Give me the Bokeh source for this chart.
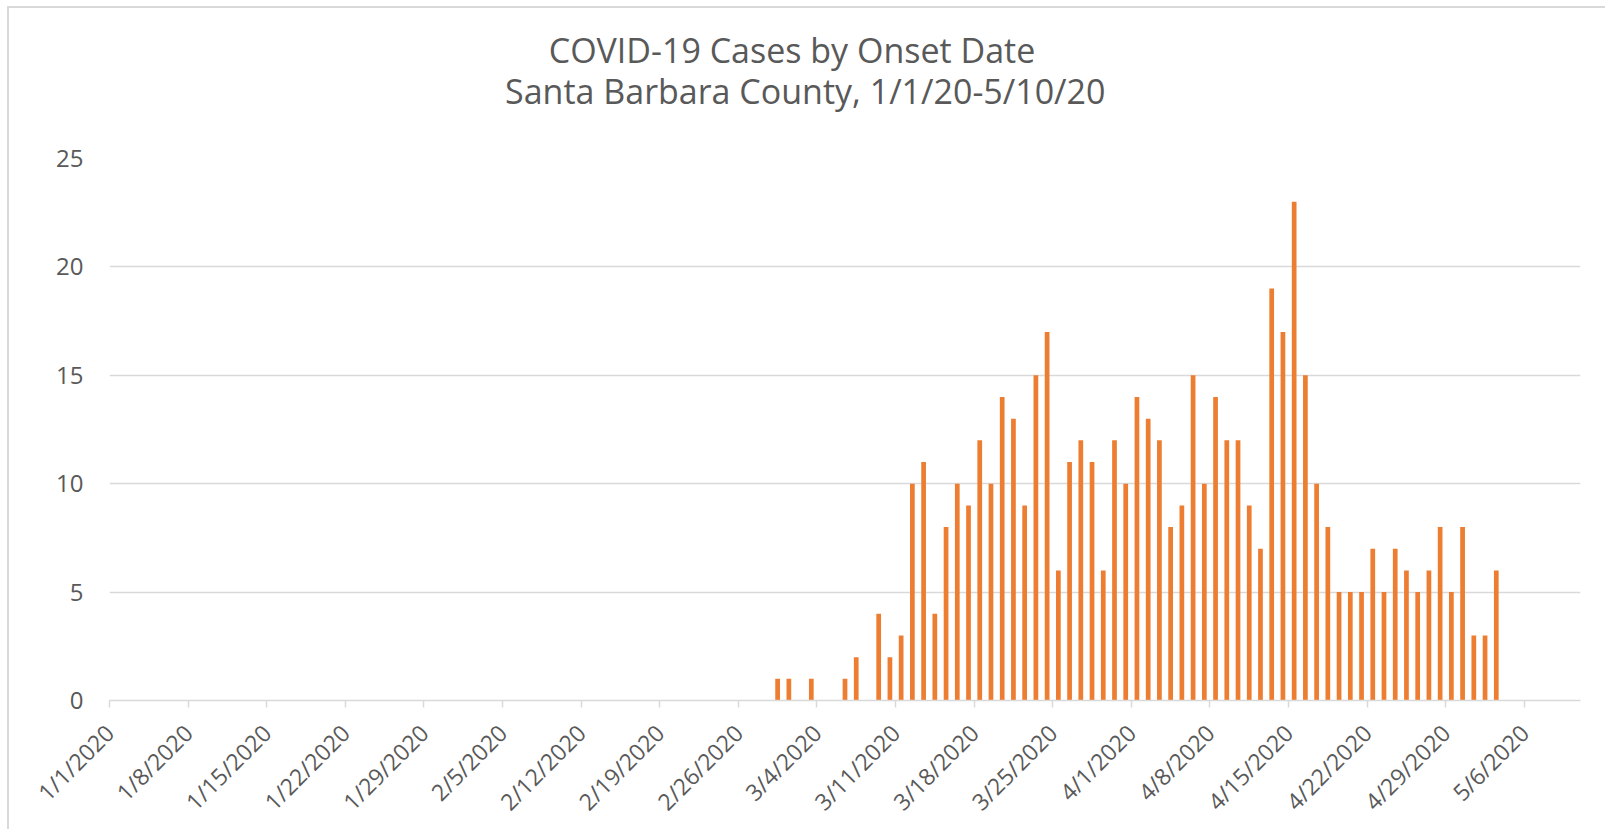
import pandas as pd
from bokeh.plotting import figure
from bokeh.models import Range1d, FixedTicker, Title, ColumnDataSource
from bokeh.embed import file_html
from bokeh.resources import INLINE

# ---- data ----
onset_dates = [
    "2/29/2020", "3/1/2020", "3/3/2020", "3/6/2020", "3/7/2020", "3/9/2020",
    "3/10/2020", "3/11/2020", "3/12/2020", "3/13/2020", "3/14/2020", "3/15/2020",
    "3/16/2020", "3/17/2020", "3/18/2020", "3/19/2020", "3/20/2020", "3/21/2020",
    "3/22/2020", "3/23/2020", "3/24/2020", "3/25/2020", "3/26/2020", "3/27/2020",
    "3/28/2020", "3/29/2020", "3/30/2020", "3/31/2020", "4/1/2020", "4/2/2020",
    "4/3/2020", "4/4/2020", "4/5/2020", "4/6/2020", "4/7/2020", "4/8/2020",
    "4/9/2020", "4/10/2020", "4/11/2020", "4/12/2020", "4/13/2020", "4/14/2020",
    "4/15/2020", "4/16/2020", "4/17/2020", "4/18/2020", "4/19/2020", "4/20/2020",
    "4/21/2020", "4/22/2020", "4/23/2020", "4/24/2020", "4/25/2020", "4/26/2020",
    "4/27/2020", "4/28/2020", "4/29/2020", "4/30/2020", "5/1/2020", "5/2/2020",
    "5/3/2020",
]
cases = [
    1, 1, 1, 1, 2, 4,
    2, 3, 10, 11, 4, 8,
    10, 9, 12, 10, 14, 13,
    9, 15, 17, 6, 11, 12,
    11, 6, 12, 10, 14, 13,
    12, 8, 9, 15, 10, 14,
    12, 12, 9, 7, 19, 17,
    23, 15, 10, 8, 5, 5,
    5, 7, 5, 7, 6, 5,
    6, 8, 5, 8, 3, 3,
    6,
]
tick_labels = [
    "1/1/2020", "1/8/2020", "1/15/2020", "1/22/2020", "1/29/2020", "2/5/2020",
    "2/12/2020", "2/19/2020", "2/26/2020", "3/4/2020", "3/11/2020", "3/18/2020",
    "3/25/2020", "4/1/2020", "4/8/2020", "4/15/2020", "4/22/2020", "4/29/2020",
    "5/6/2020",
]
axis_start = "1/1/2020"
axis_end = "5/11/2020"
y_ticks = [0, 5, 10, 15, 20, 25]
title_line1 = "COVID-19 Cases by Onset Date"
title_line2 = "Santa Barbara County, 1/1/20-5/10/20"

# ---- conversion to day numbers ----
origin = pd.to_datetime(axis_start, format="%m/%d/%Y")
def day_of(s):
    return (pd.to_datetime(s, format="%m/%d/%Y") - origin).days

bar_x = [day_of(d) + 0.5 for d in onset_dates]
tick_pos = [day_of(t) for t in tick_labels]

src = ColumnDataSource(dict(x=bar_x, cases=cases, date=onset_dates))

FONT = "Open Sans"
TXT = "#595959"
GRID = "#D9D9D9"
NBSP = "\u00a0"

p = figure(
    width=1598, height=823,
    x_range=Range1d(0, day_of(axis_end)), y_range=Range1d(0, 25),
    output_backend="svg", toolbar_location=None, title=None,
    min_border_left=100, min_border_right=27, min_border_top=150, min_border_bottom=128,
)
p.styles = {"border-top": "2px solid #D9D9D9", "border-left": "2px solid #D9D9D9",
            "margin-left": "7px", "margin-top": "6px"}
p.outline_line_color = None
p.background_fill_color = "white"
p.border_fill_color = "white"

p.vbar(x="x", top="cases", width=0.42, source=src,
       fill_color="#ED7D31", line_color=None)

# titles: stacked outward from the frame (spacer first, then line 2, then line 1)
spacer = Title(text=NBSP, text_font=FONT, text_font_size="10px", standoff=32)
t2 = Title(text=title_line2 + NBSP * 9, align="center", text_font=FONT,
           text_font_size="34px", text_color=TXT, text_font_style="normal", standoff=-7)
t1 = Title(text=title_line1 + NBSP * 12, align="center", text_font=FONT,
           text_font_size="34px", text_color=TXT, text_font_style="normal", standoff=-7)
p.add_layout(spacer, "above")
p.add_layout(t2, "above")
p.add_layout(t1, "above")

# x axis
xa = p.xaxis[0]
xa.ticker = FixedTicker(ticks=tick_pos)
xa.major_label_overrides = {pos: lab for pos, lab in zip(tick_pos, tick_labels)}
xa.major_label_orientation = 0.785398
xa.major_label_text_font = FONT
xa.major_label_text_font_size = "23px"
xa.major_label_text_color = TXT
xa.axis_line_color = GRID
xa.axis_line_width = 1.5
xa.major_tick_line_color = GRID
xa.major_tick_line_width = 1.5
xa.major_tick_out = 7
xa.major_tick_in = 0
xa.minor_tick_line_color = None
xa.major_label_standoff = 21

# y axis
ya = p.yaxis[0]
ya.ticker = FixedTicker(ticks=y_ticks)
ya.axis_line_color = None
ya.major_tick_line_color = None
ya.minor_tick_line_color = None
ya.major_tick_out = 0
ya.major_tick_in = 0
ya.major_label_standoff = 26
ya.major_label_text_font = FONT
ya.major_label_text_font_size = "24px"
ya.major_label_text_color = TXT

p.xgrid.grid_line_color = None
p.ygrid.ticker = FixedTicker(ticks=y_ticks)
p.ygrid.grid_line_color = GRID
p.ygrid.grid_line_width = 1.5

open("out.html", "w").write(file_html(p, INLINE))
